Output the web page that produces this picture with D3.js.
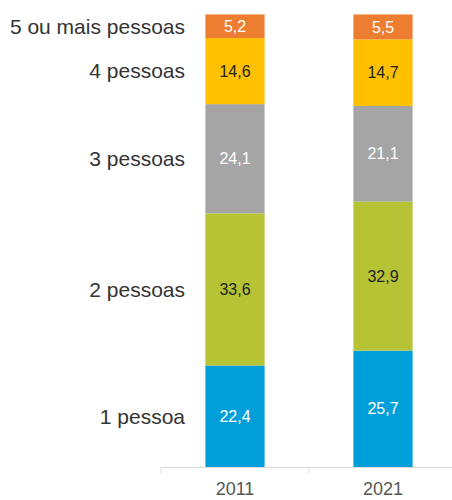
<!DOCTYPE html>
<html>
<head>
<meta charset="utf-8">
<script src="https://cdn.jsdelivr.net/npm/d3@7"></script>
<style>
  html, body { margin: 0; padding: 0; background: #fff; }
  svg { display: block; font-family: "Liberation Sans", Arial, Helvetica, sans-serif; }
</style>
</head>
<body>
<svg id="chart" width="452" height="500"></svg>
<script>
// Household size distribution (%), census years
const years = ["2011", "2021"];
const categories = ["1 pessoa", "2 pessoas", "3 pessoas", "4 pessoas", "5 ou mais pessoas"];
const values2011 = [22.4, 33.6, 24.1, 14.6, 5.2];
const values2021 = [25.7, 32.9, 21.1, 14.7, 5.5];
const colors = ["#009FDA", "#B5C334", "#A5A5A5", "#FFC000", "#ED7D31"];
const labelColors = ["#ffffff", "#222222", "#ffffff", "#222222", "#ffffff"];

const rows = years.map((yr, i) => {
  const vals = i === 0 ? values2011 : values2021;
  const row = { year: yr };
  categories.forEach((c, j) => row[c] = vals[j]);
  return row;
});

const svg = d3.select("#chart");

const x = d3.scaleBand().domain(years).range([161, 457]).padding(0);
const y = d3.scaleLinear().domain([0, 100]).range([467, 14]);
const barW = x.bandwidth() * 0.4;

const stack = d3.stack().keys(categories);
const series = stack(rows);

const fmt = v => d3.format(".1f")(v).replace(".", ",");

const layers = svg.append("g").selectAll("g")
  .data(series)
  .join("g")
  .attr("fill", (d, i) => colors[i]);

layers.selectAll("rect")
  .data(d => d)
  .join("rect")
  .attr("x", d => x(d.data.year) + (x.bandwidth() - barW) / 2)
  .attr("y", d => y(d[1]))
  .attr("width", barW)
  .attr("height", d => y(d[0]) - y(d[1]));

// value labels inside the segments
series.forEach((s, i) => {
  svg.append("g").selectAll("text")
    .data(s)
    .join("text")
    .attr("x", d => x(d.data.year) + x.bandwidth() / 2)
    .attr("y", d => (y(d[0]) + y(d[1])) / 2)
    .attr("dy", "0.35em")
    .attr("text-anchor", "middle")
    .attr("font-size", 16)
    .attr("fill", labelColors[i])
    .text(d => fmt(d[1] - d[0]));
});

// category labels, aligned to the first bar's segments
const first = series.map(s => s[0]);
svg.append("g").selectAll("text")
  .data(first)
  .join("text")
  .attr("x", 185)
  .attr("y", d => (y(d[0]) + y(d[1])) / 2)
  .attr("dy", "0.35em")
  .attr("text-anchor", "end")
  .attr("font-size", 21)
  .attr("fill", "#333")
  .text((d, i) => categories[i]);

// bottom axis
const axis = svg.append("g").attr("transform", `translate(0,${y(0)})`)
  .call(d3.axisBottom(x).tickSize(0).tickPadding(15));
axis.select(".domain").attr("stroke", "#D9D9D9");
axis.selectAll(".tick text")
  .attr("font-size", 18)
  .attr("fill", "#555")
  .attr("font-family", "Liberation Sans, Arial, sans-serif");

// separators between categories on the axis
const bounds = years.map(yr => x(yr)).concat([x.range()[1]]);
axis.selectAll(".sep")
  .data(bounds)
  .join("line")
  .attr("class", "sep")
  .attr("x1", d => d).attr("x2", d => d)
  .attr("y1", 0).attr("y2", 6)
  .attr("stroke", "#D9D9D9");
</script>
</body>
</html>
